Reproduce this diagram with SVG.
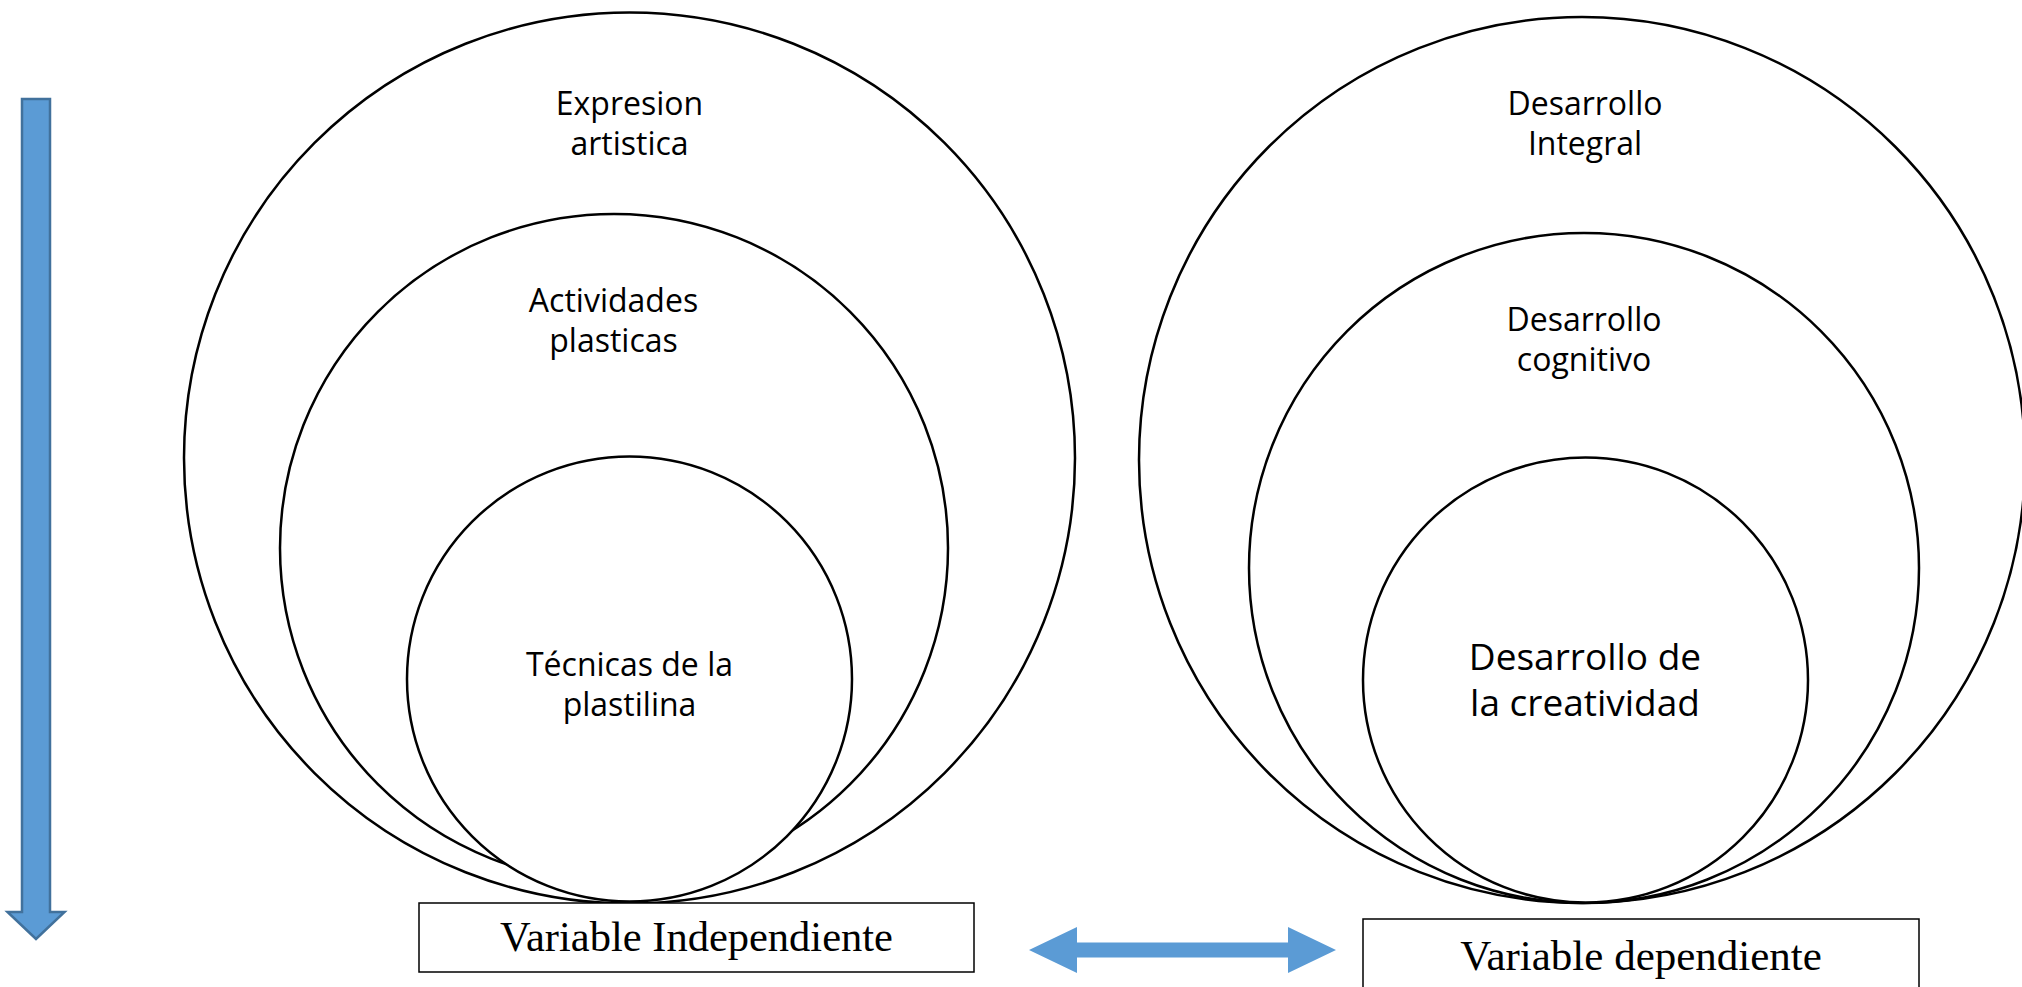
<svg xmlns="http://www.w3.org/2000/svg" width="2022" height="987" viewBox="0 0 2022 987">
<style>
.c{fill:#fff;stroke:#000;stroke-width:2.5}
.t{font-family:"Open Sans","Liberation Sans",sans-serif;font-size:32px;fill:#000;text-anchor:middle}
.b{fill:#fff;stroke:#000;stroke-width:1.5}
.v{font-family:"Liberation Serif","Times New Roman",serif;fill:#000;text-anchor:middle}
</style>
<rect width="2022" height="987" fill="#fff"/>
<g id="expresion-artistica">
<circle class="c" cx="629.5" cy="458" r="445.5"/>
<text class="t" x="629.5" y="115">Expresion</text>
<text class="t" x="629.5" y="155">artistica</text>
</g>
<g id="actividades-plasticas">
<circle class="c" cx="614" cy="548" r="334"/>
<text class="t" x="613.5" y="312">Actividades</text>
<text class="t" x="613.5" y="352">plasticas</text>
</g>
<g id="tecnicas-plastilina">
<circle class="c" cx="629.5" cy="679" r="222.5"/>
<text class="t" x="629.5" y="676">Técnicas de la</text>
<text class="t" x="629.5" y="716">plastilina</text>
</g>
<g id="desarrollo-integral">
<circle class="c" cx="1582" cy="460" r="443"/>
<text class="t" x="1585" y="115">Desarrollo</text>
<text class="t" x="1585" y="155">Integral</text>
</g>
<g id="desarrollo-cognitivo">
<circle class="c" cx="1584" cy="568" r="335"/>
<text class="t" x="1584" y="331">Desarrollo</text>
<text class="t" x="1584" y="371">cognitivo</text>
</g>
<g id="desarrollo-creatividad">
<circle class="c" cx="1585.5" cy="680" r="222.5"/>
<text class="t" x="1585" y="670" style="font-size:37px">Desarrollo de</text>
<text class="t" x="1585" y="716" style="font-size:37px">la creatividad</text>
</g>
<g id="variable-independiente">
<rect class="b" x="419" y="903" width="555" height="69"/>
<text class="v" x="696.5" y="951" font-size="42.5">Variable Independiente</text>
</g>
<g id="variable-dependiente">
<rect class="b" x="1363" y="919" width="556" height="80"/>
<text class="v" x="1641" y="970" font-size="43">Variable dependiente</text>
</g>
<g id="connectors">
<path d="M22,99 H50 V912 H64.5 L36,939 L7.5,912 H22 Z" fill="#5B9BD5" stroke="#41719C" stroke-width="2.5"/>
<path d="M1029,950 L1077,927 V942.5 H1288 V927 L1336,950 L1288,973 V957.5 H1077 V973 Z" fill="#5B9BD5"/>
</g>
</svg>
